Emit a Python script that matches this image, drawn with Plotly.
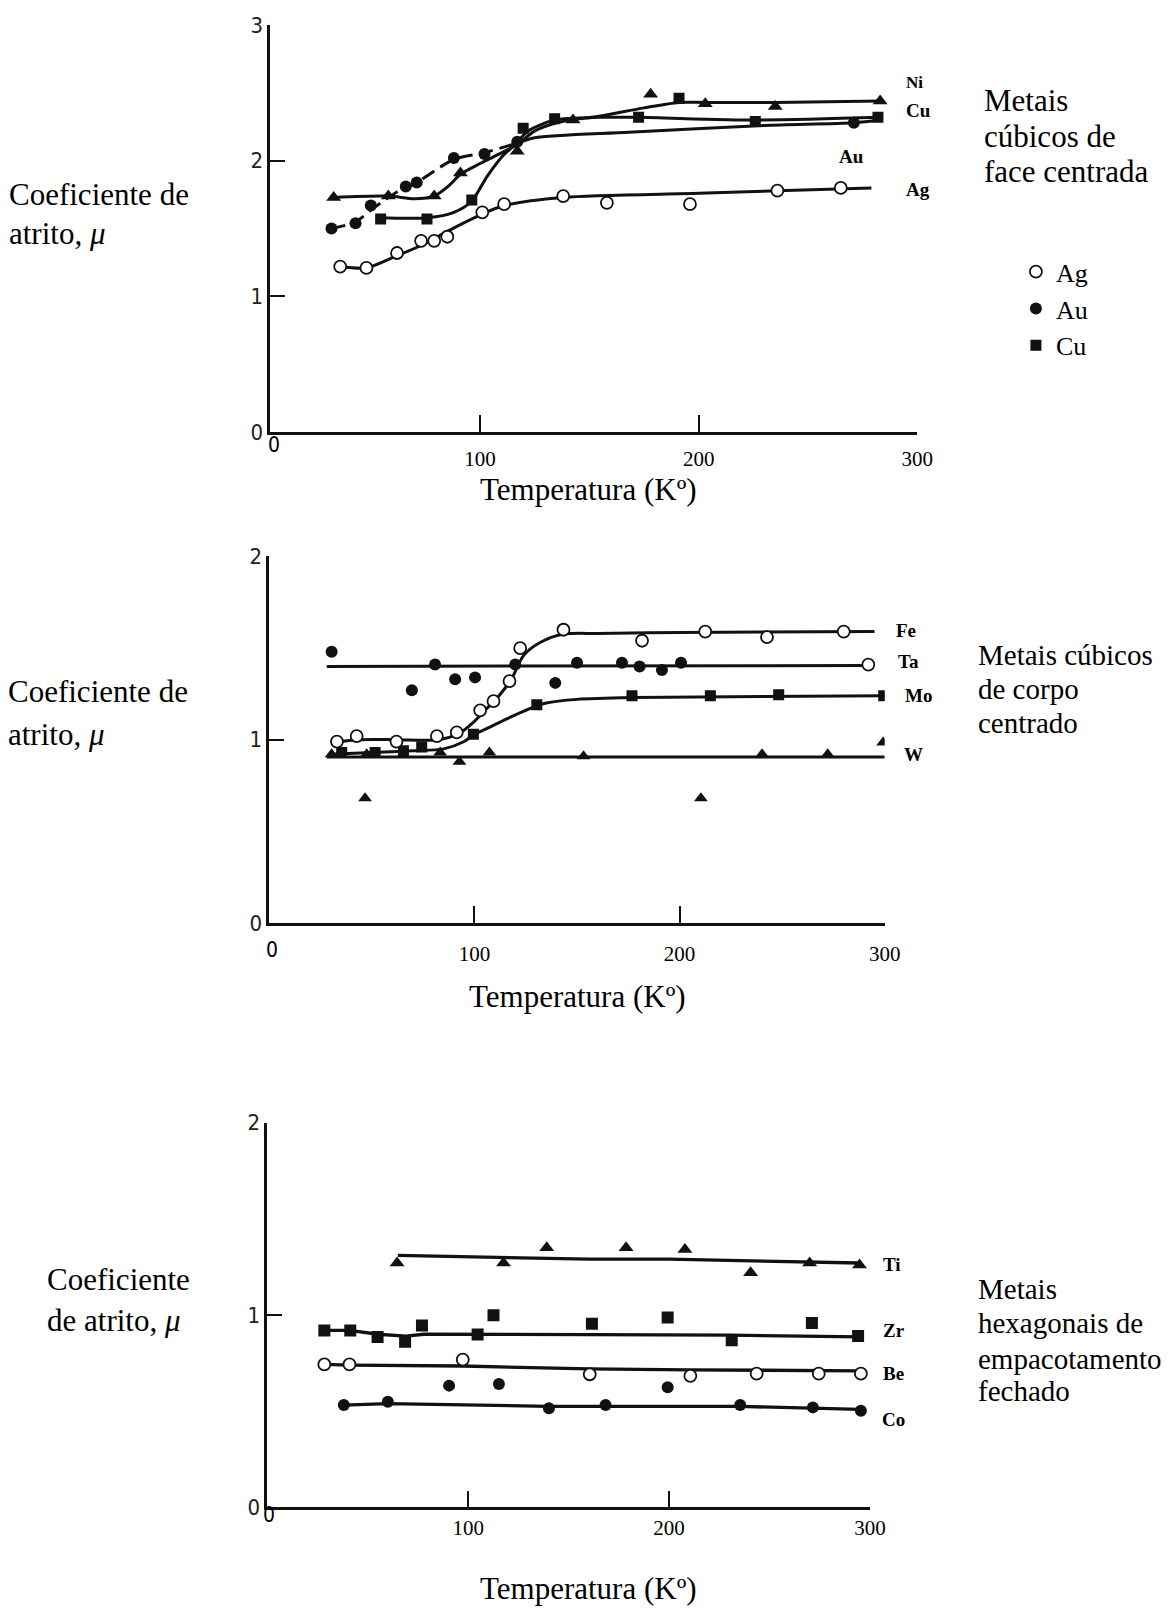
import plotly.graph_objects as go

W, H = 1171, 1613
SERIF = "Liberation Serif, Times New Roman, serif"
SANS = "Liberation Sans Narrow, DejaVu Sans Condensed, Arial Narrow, sans-serif"

# ---------------- Panel 1 : face-centred cubic ----------------
ag_x = [36, 48, 62, 73, 79, 85, 101, 111, 138, 158, 196, 236, 265]
ag_y = [1.22, 1.21, 1.32, 1.41, 1.41, 1.44, 1.62, 1.68, 1.74, 1.69, 1.68, 1.78, 1.80]
ag_cx = [36, 48, 62, 75, 85, 100, 111, 138, 200, 240, 279]
ag_cy = [1.22, 1.21, 1.30, 1.39, 1.48, 1.60, 1.67, 1.73, 1.76, 1.78, 1.80]

au_x = [32, 43, 50, 66, 71, 88, 102, 117, 271]
au_y = [1.50, 1.54, 1.67, 1.81, 1.84, 2.02, 2.05, 2.14, 2.28]
au_cx = [32, 43, 52, 62, 71, 88, 102, 117, 125, 168, 230, 271, 283]
au_cy = [1.50, 1.55, 1.66, 1.77, 1.84, 2.01, 2.06, 2.13, 2.17, 2.21, 2.26, 2.28, 2.30]

cu_x = [54.5, 75.7, 96.2, 119.7, 134.1, 172.5, 191, 225.9, 282]
cu_y = [1.57, 1.57, 1.71, 2.24, 2.31, 2.32, 2.46, 2.29, 2.32]
cu_cx = [54, 76, 88, 96, 103, 110, 116, 122, 134, 155, 172, 226, 283]
cu_cy = [1.58, 1.58, 1.62, 1.70, 1.88, 2.03, 2.12, 2.22, 2.30, 2.32, 2.32, 2.30, 2.32]

ni_x = [33, 58, 79, 91, 117, 142.5, 178, 203, 235, 283]
ni_y = [1.73, 1.74, 1.74, 1.91, 2.07, 2.30, 2.49, 2.42, 2.40, 2.44]
ni_cx = [33, 58, 70, 79, 86, 91, 100, 110, 117, 125, 135, 142, 155, 175, 191, 203, 235, 283]
ni_cy = [1.73, 1.74, 1.72, 1.74, 1.82, 1.90, 1.98, 2.06, 2.12, 2.22, 2.28, 2.30, 2.33, 2.39, 2.43, 2.43, 2.43, 2.44]

# ---------------- Panel 2 : body-centred cubic ----------------
fe_x = [33, 42.6, 62, 81.7, 91.4, 102.8, 109.3, 117.1, 122.3, 143.4, 181.7, 212.5, 242.6, 280, 292]
fe_y = [0.99, 1.02, 0.99, 1.02, 1.04, 1.16, 1.21, 1.32, 1.50, 1.60, 1.54, 1.59, 1.56, 1.59, 1.41]
fe_cx = [33, 45, 62, 82, 92, 100, 106, 112, 118, 124, 132, 143, 160, 200, 295]
fe_cy = [0.99, 1.00, 1.00, 1.00, 1.03, 1.10, 1.17, 1.24, 1.33, 1.46, 1.53, 1.575, 1.58, 1.585, 1.59]

ta_x = [30.4, 69.5, 80.8, 90.6, 100.3, 119.9, 139.4, 150, 171.9, 180.5, 191.4, 200.7]
ta_y = [1.48, 1.27, 1.41, 1.33, 1.34, 1.41, 1.31, 1.42, 1.42, 1.40, 1.38, 1.42]
ta_cx = [28, 292]
ta_cy = [1.40, 1.405]

mo_x = [35.3, 51.6, 65.4, 74.3, 99.5, 130.4, 176.8, 215, 248.3, 299.5]
mo_y = [0.93, 0.93, 0.94, 0.96, 1.03, 1.19, 1.24, 1.24, 1.245, 1.24]
mo_cx = [30, 50, 70, 85, 95, 100, 106, 115, 127, 135, 150, 177, 300]
mo_cy = [0.92, 0.93, 0.94, 0.95, 0.99, 1.03, 1.06, 1.11, 1.17, 1.20, 1.22, 1.23, 1.24]

w_x = [30.4, 46.7, 47.5, 83.3, 92.7, 107.3, 153.2, 210.4, 240.2, 272.2, 299.2]
w_y = [0.92, 0.68, 0.92, 0.93, 0.88, 0.93, 0.91, 0.68, 0.92, 0.92, 0.985]
w_cx = [28, 300]
w_cy = [0.905, 0.905]

# ---------------- Panel 3 : hexagonal close-packed ----------------
ti_x = [64.6, 117.6, 139.1, 178.6, 207.9, 240.6, 270, 294.8]
ti_y = [1.27, 1.27, 1.35, 1.35, 1.34, 1.22, 1.27, 1.26]
ti_cx = [65, 117, 160, 200, 240, 270, 295]
ti_cy = [1.31, 1.30, 1.29, 1.29, 1.28, 1.275, 1.27]

zr_x = [28.4, 41.3, 54.9, 68.6, 77, 104.7, 112.6, 161.6, 199.3, 231.2, 271.1, 294.1]
zr_y = [0.92, 0.92, 0.886, 0.861, 0.945, 0.898, 0.999, 0.955, 0.987, 0.869, 0.959, 0.891]
zr_cx = [28, 41, 55, 69, 78, 105, 160, 230, 295]
zr_cy = [0.92, 0.92, 0.90, 0.89, 0.90, 0.90, 0.898, 0.895, 0.886]

be_x = [28.4, 40.9, 97.3, 160.5, 210.6, 243.6, 274.5, 295.5]
be_y = [0.743, 0.743, 0.768, 0.692, 0.684, 0.695, 0.695, 0.695]
be_cx = [28, 41, 97, 160, 210, 295]
be_cy = [0.743, 0.74, 0.735, 0.72, 0.715, 0.71]

co_x = [38.1, 60, 90.5, 115.3, 140.2, 168.4, 199.3, 235.4, 271.6, 295.5]
co_y = [0.532, 0.549, 0.633, 0.641, 0.515, 0.532, 0.624, 0.532, 0.52, 0.503]
co_cx = [38, 60, 140, 235, 295]
co_cy = [0.532, 0.54, 0.525, 0.525, 0.51]

x_ticks = [100, 200, 300]
x_ticktext = ["100", "200", "300"]

fig = go.Figure()
INK = "#111111"


def curve(x, y, ax, dash="solid", shape="spline", width=3):
    fig.add_trace(go.Scatter(x=x, y=y, mode="lines", xaxis=ax[0], yaxis=ax[1],
                             line=dict(color=INK, width=width, dash=dash, shape=shape, smoothing=0.8),
                             showlegend=False, hoverinfo="skip"))


def pts(x, y, ax, symbol, size, name=None, legend=False, opened=False):
    fig.add_trace(go.Scatter(x=x, y=y, mode="markers", xaxis=ax[0], yaxis=ax[1], name=name,
                             marker=dict(symbol=symbol, size=size,
                                         color="white" if opened else INK,
                                         line=dict(color=INK, width=1.8 if opened else 0)),
                             showlegend=legend))


A1, A2, A3 = ("x", "y"), ("x2", "y2"), ("x3", "y3")

# panel 1
curve(ag_cx, ag_cy, A1)
curve(au_cx[:8], au_cy[:8], A1, dash="14px,7px")
curve(au_cx[7:], au_cy[7:], A1)
curve(cu_cx, cu_cy, A1)
curve(ni_cx, ni_cy, A1)
pts(ni_x, ni_y, A1, "triangle-up", 13)
pts(ag_x, ag_y, A1, "circle", 12, "Ag", True, opened=True)
pts(au_x, au_y, A1, "circle", 12, "Au", True)
pts(cu_x, cu_y, A1, "square", 11, "Cu", True)

# panel 2
curve(fe_cx, fe_cy, A2)
curve(ta_cx, ta_cy, A2, shape="linear")
curve(mo_cx, mo_cy, A2)
curve(w_cx, w_cy, A2, shape="linear")
pts(ta_x, ta_y, A2, "circle", 12)
pts(mo_x, mo_y, A2, "square", 11)
pts(w_x, w_y, A2, "triangle-up", 12)
pts(fe_x, fe_y, A2, "circle", 12, opened=True)

# panel 3
curve(ti_cx, ti_cy, A3, shape="linear", width=3.3)
curve(zr_cx, zr_cy, A3, shape="linear", width=3.3)
curve(be_cx, be_cy, A3, shape="linear", width=3.3)
curve(co_cx, co_cy, A3, shape="linear", width=3.3)
pts(ti_x, ti_y, A3, "triangle-up", 13)
pts(zr_x, zr_y, A3, "square", 12)
pts(co_x, co_y, A3, "circle", 12)
pts(be_x, be_y, A3, "circle", 12, opened=True)


def dom_x(p0, p1):
    return [p0 / W, p1 / W]


def dom_y(p_bottom, p_top):
    return [1 - p_bottom / H, 1 - p_top / H]


def xax(domain, rng, anchor, standoff):
    return dict(domain=domain, range=rng, anchor=anchor, showgrid=False, zeroline=False,
                showline=True, linecolor=INK, linewidth=2.5, ticks="inside", ticklen=17,
                tickwidth=2, tickcolor=INK, tickvals=x_ticks, ticktext=x_ticktext,
                tickfont=dict(family=SERIF, size=21, color="black"), ticklabelstandoff=standoff)


def yax(domain, rng, anchor, vals):
    return dict(domain=domain, range=rng, anchor=anchor, showgrid=False, zeroline=False,
                showline=True, linecolor=INK, linewidth=2.5, ticks="inside", ticklen=15,
                tickwidth=2, tickcolor=INK, tickvals=vals, ticktext=[str(v) for v in vals],
                tickfont=dict(family=SANS, size=22, color="#222"))


fig.update_layout(
    width=W, height=H, margin=dict(l=0, r=0, t=0, b=0),
    paper_bgcolor="white", plot_bgcolor="white",
    xaxis=xax(dom_x(274, 930), [4, 300], "y", 6),
    yaxis=yax(dom_y(426.7, 13.3), [0, 3], "x", [0, 1, 2, 3]),
    xaxis2=xax(dom_x(273, 897), [0, 300], "y2", 10),
    yaxis2=yax(dom_y(925.3, 553), [0, 2], "x2", [0, 1, 2]),
    xaxis3=xax(dom_x(271, 882), [0, 300], "y3", 0),
    yaxis3=yax(dom_y(1519, 1128), [0, 2], "x3", [0, 1, 2]),
    legend=dict(x=1030 / W, y=1 - 240 / H, xanchor="left", yanchor="top",
                bgcolor="rgba(0,0,0,0)", font=dict(family=SERIF, size=26, color="black"),
                tracegroupgap=0, itemwidth=30),
)


def ann(text, px, py, size=31, xanchor="left", family=SERIF):
    return dict(text=text, x=px / W, y=1 - py / H, xref="paper", yref="paper", showarrow=False,
                xanchor=xanchor, yanchor="middle", font=dict(family=family, size=size, color="black"))


anns = [
    # y titles
    ann("Coeficiente de", 7, 185), ann("atrito, <i>μ</i>", 7, 225),
    ann("Coeficiente de", 6, 690), ann("atrito, <i>μ</i>", 6, 734),
    ann("Coeficiente", 46, 1287), ann("de atrito, <i>μ</i>", 46, 1329),
    # x titles
    ann("Temperatura (Kº)", 597, 485, xanchor="center"),
    ann("Temperatura (Kº)", 586, 1000, xanchor="center"),
    ann("Temperatura (Kº)", 597, 1601, xanchor="center"),
    # group names
    ann("Metais", 996, 90), ann("cúbicos de", 996, 126), ann("face centrada", 996, 162),
    ann("Metais cúbicos", 990, 653, size=29), ann("de corpo", 990, 688, size=29),
    ann("centrado", 990, 722, size=29),
    ann("Metais", 990, 1297, size=29), ann("hexagonais de", 990, 1332, size=29),
    ann("empacotamento", 990, 1368, size=29), ann("fechado", 990, 1401, size=29),
    # origin labels
    ann("0", 278, 440, size=21, xanchor="center", family=SANS),
    ann("0", 276, 953, size=21, xanchor="center", family=SANS),
    ann("0", 273, 1527, size=21, xanchor="center", family=SANS),
    # series labels
    ann("<b>Ni</b>", 927, 72, size=17, xanchor="center"),
    ann("<b>Cu</b>", 931, 100, size=19, xanchor="center"),
    ann("<b>Au</b>", 863, 147, size=19, xanchor="center"),
    ann("<b>Ag</b>", 931, 180, size=19, xanchor="center"),
    ann("<b>Fe</b>", 919, 628, size=19, xanchor="center"),
    ann("<b>Ta</b>", 921, 660, size=19, xanchor="center"),
    ann("<b>Mo</b>", 931, 694, size=19, xanchor="center"),
    ann("<b>W</b>", 926, 754, size=19, xanchor="center"),
    ann("<b>Ti</b>", 904, 1272, size=19, xanchor="center"),
    ann("<b>Zr</b>", 906, 1339, size=19, xanchor="center"),
    ann("<b>Be</b>", 906, 1383, size=19, xanchor="center"),
    ann("<b>Co</b>", 906, 1430, size=19, xanchor="center"),
]
fig.update_layout(annotations=anns)

fig.write_html("out.html")
